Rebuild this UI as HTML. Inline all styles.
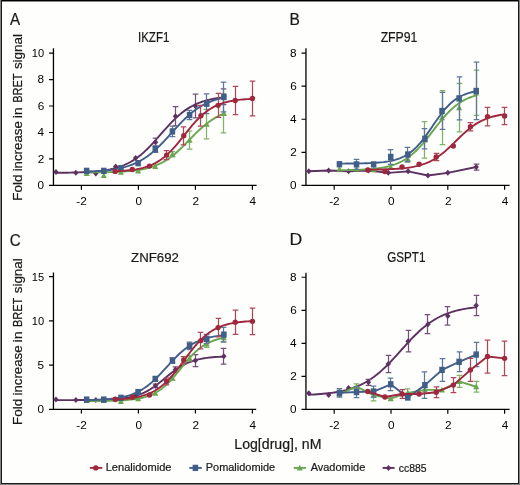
<!DOCTYPE html>
<html><head><meta charset="utf-8"><style>html,body{margin:0;padding:0;background:#fff;width:520px;height:485px;overflow:hidden}svg{display:block}text{-webkit-font-smoothing:antialiased}</style></head>
<body>
<svg width="520" height="485" viewBox="0 0 520 485" style="will-change:transform">
<rect x="0" y="0" width="520" height="485" fill="#fefefd"/>
<g shape-rendering="crispEdges">
<rect x="0" y="0" width="1" height="485" fill="#828282"/>
<rect x="519" y="0" width="1" height="485" fill="#828282"/>
<rect x="0" y="484" width="520" height="1" fill="#828282"/>
<rect x="2" y="1" width="516" height="1" fill="#858585"/>
<rect x="1" y="0" width="518" height="1" fill="#000"/>
<rect x="1" y="0" width="1" height="484" fill="#1a1a1a"/>
<rect x="518" y="0" width="1" height="484" fill="#1a1a1a"/>
<rect x="1" y="483" width="518" height="1" fill="#1a1a1a"/>
</g>
<g font-family="'Liberation Sans', sans-serif" fill="#1a1a1a" stroke="#1a1a1a" stroke-width="0.22">
<text transform="translate(10.12,25.2) scale(0.901,1)" font-size="16.81">A</text>
<text transform="translate(289.56,25.2) scale(0.923,1)" font-size="16.81">B</text>
<text transform="translate(9.64,245.8) scale(0.874,1)" font-size="17.43">C</text>
<text transform="translate(289.49,245.4) scale(1.032,1)" font-size="17.10">D</text>
<text transform="translate(137.96,41.8) scale(0.830,1)" font-size="13.91">IKZF1</text>
<text transform="translate(380.63,41.8) scale(0.885,1)" font-size="13.86">ZFP91</text>
<text transform="translate(131.1,261.8) scale(0.975,1)" font-size="13.57">ZNF692</text>
<text transform="translate(387.22,262.2) scale(0.833,1)" font-size="14.00">GSPT1</text>
<text transform="translate(21.9,200.78) rotate(-90) scale(1.005,1)" font-size="13.38">Fold</text>
<text transform="translate(21.9,171.36) rotate(-90) scale(0.992,1)" font-size="13.38">increase</text>
<text transform="translate(21.9,118.34) rotate(-90) scale(1.078,1)" font-size="13.38">in</text>
<text transform="translate(21.9,102.78) rotate(-90) scale(0.822,1)" font-size="13.38">BRET</text>
<text transform="translate(21.9,69.1) rotate(-90) scale(1.004,1)" font-size="13.38">signal</text>
<text transform="translate(21.9,424.98) rotate(-90) scale(1.005,1)" font-size="13.38">Fold</text>
<text transform="translate(21.9,395.56) rotate(-90) scale(0.992,1)" font-size="13.38">increase</text>
<text transform="translate(21.9,342.54) rotate(-90) scale(1.078,1)" font-size="13.38">in</text>
<text transform="translate(21.9,326.98) rotate(-90) scale(0.822,1)" font-size="13.38">BRET</text>
<text transform="translate(21.9,293.3) rotate(-90) scale(1.004,1)" font-size="13.38">signal</text>
<text transform="translate(234.27,449.2) scale(0.967,1)" font-size="14.62">Log[drug], nM</text>
<text transform="translate(105.72,471.4) scale(0.966,1)" font-size="11.45">Lenalidomide</text>
<text transform="translate(205.72,471.4) scale(0.958,1)" font-size="11.45">Pomalidomide</text>
<text transform="translate(310.65,471.4) scale(0.959,1)" font-size="11.45">Avadomide</text>
<text transform="translate(398.73,471.6) scale(0.986,1)" font-size="10.57">cc885</text>
</g>
<g font-family="'Liberation Sans', sans-serif" fill="#1a1a1a">
<path d="M53.45 48.3V185.4H256.6" fill="none" stroke="#000" stroke-width="1.3"/>
<path d="M49.05 185.4H53.45M49.05 158.94H53.45M49.05 132.48H53.45M49.05 106.02H53.45M49.05 79.56H53.45M49.05 53.1H53.45M81.4 185.4V189.7M138.4 185.4V189.7M195.4 185.4V189.7M252.4 185.4V189.7" stroke="#000" stroke-width="1.2"/>
<text transform="translate(37.59,189.3) scale(1.08,1)" font-size="10.9" fill="#000">0</text>
<text transform="translate(37.71,162.84) scale(1.08,1)" font-size="10.9" fill="#000">2</text>
<text transform="translate(37.47,136.38) scale(1.08,1)" font-size="10.9" fill="#000">4</text>
<text transform="translate(37.65,109.92) scale(1.08,1)" font-size="10.9" fill="#000">6</text>
<text transform="translate(37.59,83.46) scale(1.08,1)" font-size="10.9" fill="#000">8</text>
<text transform="translate(31.75,57) scale(1.02,1)" font-size="10.9" fill="#000">10</text>
<text transform="translate(76.34,205) scale(1.08,1)" font-size="10.9" fill="#000">-2</text>
<text transform="translate(135.48,205) scale(1.08,1)" font-size="10.9" fill="#000">0</text>
<text transform="translate(192.48,205) scale(1.08,1)" font-size="10.9" fill="#000">2</text>
<text transform="translate(249.51,205) scale(1.08,1)" font-size="10.9" fill="#000">4</text>
<polyline points="55.95,172.82 58.8,172.8 61.64,172.76 64.49,172.72 67.34,172.68 70.18,172.62 73.03,172.56 75.88,172.48 78.72,172.39 81.57,172.28 84.42,172.15 87.26,172 90.11,171.82 92.96,171.61 95.8,171.37 98.65,171.08 101.5,170.74 104.34,170.34 107.19,169.88 110.04,169.34 112.88,168.7 115.73,167.97 118.58,167.12 121.42,166.14 124.27,165.01 127.11,163.72 129.96,162.25 132.81,160.6 135.65,158.74 138.5,156.68 141.35,154.4 144.19,151.92 147.04,149.24 149.89,146.37 152.73,143.36 155.58,140.22 158.43,136.99 161.27,133.73 164.12,130.48 166.97,127.28 169.81,124.17 172.66,121.2 175.51,118.39 178.35,115.77 181.2,113.35 184.05,111.13 186.89,109.14 189.74,107.34 192.59,105.75 195.43,104.34 198.28,103.1 201.13,102.02 203.97,101.08 206.82,100.27 209.67,99.57 212.51,98.96 215.36,98.45 218.21,98 221.05,97.63 223.9,97.3" fill="none" stroke="#5d3160" stroke-width="1.9" stroke-linejoin="round"/>
<path d="M155.5 138.17V146.11M152.7 138.17H158.3M152.7 146.11H158.3M175.5 106.55V125.87M172.7 106.55H178.3M172.7 125.87H178.3M195.5 94.11V117.93M192.7 94.11H198.3M192.7 117.93H198.3M223.5 88.82V104.7M220.7 88.82H226.3M220.7 104.7H226.3" stroke="#755078" stroke-width="1.25" fill="none"/>
<path d="M55.95 168.91L58.65 171.91L55.95 174.91L53.25 171.91Z" fill="#5d3160"/>
<path d="M75.87 169.7L78.57 172.7L75.87 175.7L73.17 172.7Z" fill="#5d3160"/>
<path d="M95.79 170.49L98.49 173.49L95.79 176.49L93.09 173.49Z" fill="#5d3160"/>
<path d="M115.71 163.48L118.41 166.48L115.71 169.48L113.01 166.48Z" fill="#5d3160"/>
<path d="M135.64 155.01L138.34 158.01L135.64 161.01L132.94 158.01Z" fill="#5d3160"/>
<path d="M155.56 139.14L158.26 142.14L155.56 145.14L152.86 142.14Z" fill="#5d3160"/>
<path d="M175.48 113.21L178.18 116.21L175.48 119.21L172.78 116.21Z" fill="#5d3160"/>
<path d="M195.4 103.02L198.1 106.02L195.4 109.02L192.7 106.02Z" fill="#5d3160"/>
<path d="M223.9 93.76L226.6 96.76L223.9 99.76L221.2 96.76Z" fill="#5d3160"/>
<polyline points="86.64,172.46 88.97,172.45 91.3,172.43 93.62,172.41 95.95,172.38 98.28,172.35 100.6,172.32 102.93,172.28 105.25,172.23 107.58,172.18 109.91,172.12 112.23,172.05 114.56,171.97 116.89,171.88 119.21,171.77 121.54,171.65 123.87,171.51 126.19,171.35 128.52,171.16 130.85,170.95 133.17,170.7 135.5,170.41 137.82,170.09 140.15,169.72 142.48,169.29 144.8,168.81 147.13,168.26 149.46,167.63 151.78,166.93 154.11,166.13 156.44,165.23 158.76,164.23 161.09,163.11 163.41,161.87 165.74,160.5 168.07,158.99 170.39,157.36 172.72,155.59 175.05,153.69 177.37,151.67 179.7,149.55 182.03,147.32 184.35,145.02 186.68,142.67 189,140.28 191.33,137.89 193.66,135.52 195.98,133.19 198.31,130.93 200.64,128.76 202.96,126.68 205.29,124.73 207.62,122.9 209.94,121.2 212.27,119.63 214.59,118.2 216.92,116.9 219.25,115.73 221.57,114.67 223.9,113.72" fill="none" stroke="#6aa550" stroke-width="1.9" stroke-linejoin="round"/>
<path d="M172.5 151.53V156.82M169.7 151.53H175.3M169.7 156.82H175.3M189.5 131.16V149.15M186.7 131.16H192.3M186.7 149.15H192.3M206.5 109.33V138.96M203.7 109.33H209.3M203.7 138.96H209.3M223.5 93.72V132.88M220.7 93.72H226.3M220.7 132.88H226.3" stroke="#80b26a" stroke-width="1.25" fill="none"/>
<path d="M86.64 170.16L89.64 175.96L83.64 175.96Z" fill="#6aa550"/>
<path d="M103.8 172.15L106.8 177.95L100.8 177.95Z" fill="#6aa550"/>
<path d="M120.96 168.97L123.96 174.77L117.96 174.77Z" fill="#6aa550"/>
<path d="M138.12 167.65L141.12 173.45L135.12 173.45Z" fill="#6aa550"/>
<path d="M155.27 163.28L158.27 169.08L152.27 169.08Z" fill="#6aa550"/>
<path d="M172.43 150.98L175.43 156.78L169.43 156.78Z" fill="#6aa550"/>
<path d="M189.59 136.95L192.59 142.75L186.59 142.75Z" fill="#6aa550"/>
<path d="M206.74 120.95L209.74 126.75L203.74 126.75Z" fill="#6aa550"/>
<path d="M223.9 110.1L226.9 115.9L220.9 115.9Z" fill="#6aa550"/>
<polyline points="86.64,171.66 88.97,171.57 91.3,171.47 93.62,171.36 95.95,171.23 98.28,171.08 100.6,170.91 102.93,170.71 105.25,170.5 107.58,170.25 109.91,169.97 112.23,169.65 114.56,169.29 116.89,168.88 119.21,168.43 121.54,167.91 123.87,167.33 126.19,166.68 128.52,165.95 130.85,165.14 133.17,164.24 135.5,163.23 137.82,162.12 140.15,160.89 142.48,159.55 144.8,158.08 147.13,156.48 149.46,154.75 151.78,152.89 154.11,150.9 156.44,148.79 158.76,146.56 161.09,144.23 163.41,141.82 165.74,139.33 168.07,136.79 170.39,134.21 172.72,131.63 175.05,129.06 177.37,126.52 179.7,124.04 182.03,121.63 184.35,119.31 186.68,117.1 189,115 191.33,113.03 193.66,111.18 195.98,109.47 198.31,107.88 200.64,106.42 202.96,105.09 205.29,103.88 207.62,102.78 209.94,101.79 212.27,100.89 214.59,100.09 216.92,99.37 219.25,98.73 221.57,98.16 223.9,97.65" fill="none" stroke="#405e88" stroke-width="1.9" stroke-linejoin="round"/>
<path d="M155.5 145.84V152.46M152.7 145.84H158.3M152.7 152.46H158.3M172.5 126.13V136.71M169.7 126.13H175.3M169.7 136.71H175.3M189.5 110.39V119.65M186.7 110.39H192.3M186.7 119.65H192.3M206.5 93.85V113.69M203.7 93.85H209.3M203.7 113.69H209.3M223.5 82.07V111.97M220.7 82.07H226.3M220.7 111.97H226.3" stroke="#5d769a" stroke-width="1.25" fill="none"/>
<rect x="83.89" y="167.7" width="5.5" height="6.3" fill="#405e88"/>
<rect x="101.05" y="167.7" width="5.5" height="6.3" fill="#405e88"/>
<rect x="118.21" y="165.05" width="5.5" height="6.3" fill="#405e88"/>
<rect x="135.37" y="160.02" width="5.5" height="6.3" fill="#405e88"/>
<rect x="152.52" y="146" width="5.5" height="6.3" fill="#405e88"/>
<rect x="169.68" y="128.27" width="5.5" height="6.3" fill="#405e88"/>
<rect x="186.84" y="111.87" width="5.5" height="6.3" fill="#405e88"/>
<rect x="203.99" y="100.62" width="5.5" height="6.3" fill="#405e88"/>
<rect x="221.15" y="93.87" width="5.5" height="6.3" fill="#405e88"/>
<polyline points="115.14,171.29 117.47,171.18 119.8,171.05 122.12,170.9 124.45,170.73 126.78,170.53 129.1,170.29 131.43,170.02 133.75,169.7 136.08,169.33 138.41,168.89 140.73,168.4 143.06,167.82 145.39,167.16 147.71,166.4 150.04,165.52 152.37,164.53 154.69,163.4 157.02,162.12 159.35,160.68 161.67,159.08 164,157.3 166.32,155.34 168.65,153.2 170.98,150.89 173.3,148.41 175.63,145.79 177.96,143.04 180.28,140.19 182.61,137.28 184.94,134.35 187.26,131.42 189.59,128.53 191.91,125.73 194.24,123.04 196.57,120.48 198.89,118.08 201.22,115.85 203.55,113.79 205.87,111.92 208.2,110.22 210.53,108.7 212.85,107.34 215.18,106.13 217.5,105.07 219.83,104.13 222.16,103.31 224.48,102.6 226.81,101.98 229.14,101.44 231.46,100.98 233.79,100.58 236.12,100.23 238.44,99.93 240.77,99.68 243.09,99.46 245.42,99.27 247.75,99.11 250.07,98.97 252.4,98.85" fill="none" stroke="#9f283e" stroke-width="1.9" stroke-linejoin="round"/>
<path d="M166.5 150.61V159.6M163.7 150.61H169.3M163.7 159.6H169.3M183.5 126.79V144.78M180.7 126.79H186.3M180.7 144.78H186.3M200.5 105.49V126.13M197.7 105.49H203.3M197.7 126.13H203.3M218.5 93.45V117.27M215.7 93.45H221.3M215.7 117.27H221.3M235.5 86.31V114.62M232.7 86.31H238.3M232.7 114.62H238.3M252.5 81.02V115.94M249.7 81.02H255.3M249.7 115.94H255.3" stroke="#ad485b" stroke-width="1.25" fill="none"/>
<circle cx="115.14" cy="171.38" r="2.7" fill="#9f283e"/>
<circle cx="132.3" cy="169.52" r="2.7" fill="#9f283e"/>
<circle cx="149.46" cy="166.08" r="2.7" fill="#9f283e"/>
<circle cx="166.62" cy="155.1" r="2.7" fill="#9f283e"/>
<circle cx="183.77" cy="135.79" r="2.7" fill="#9f283e"/>
<circle cx="200.93" cy="115.81" r="2.7" fill="#9f283e"/>
<circle cx="218.09" cy="105.36" r="2.7" fill="#9f283e"/>
<circle cx="235.24" cy="100.46" r="2.7" fill="#9f283e"/>
<circle cx="252.4" cy="98.48" r="2.7" fill="#9f283e"/>
<path d="M305.95 48.3V185.4H509.6" fill="none" stroke="#000" stroke-width="1.3"/>
<path d="M301.55 185.4H305.95M301.55 152.32H305.95M301.55 119.24H305.95M301.55 86.16H305.95M301.55 53.08H305.95M334.2 185.4V189.7M391 185.4V189.7M447.8 185.4V189.7M504.6 185.4V189.7" stroke="#000" stroke-width="1.2"/>
<text transform="translate(290.09,189.3) scale(1.08,1)" font-size="10.9" fill="#000">0</text>
<text transform="translate(290.21,156.22) scale(1.08,1)" font-size="10.9" fill="#000">2</text>
<text transform="translate(289.97,123.14) scale(1.08,1)" font-size="10.9" fill="#000">4</text>
<text transform="translate(290.15,90.06) scale(1.08,1)" font-size="10.9" fill="#000">6</text>
<text transform="translate(290.09,56.98) scale(1.08,1)" font-size="10.9" fill="#000">8</text>
<text transform="translate(329.14,205) scale(1.08,1)" font-size="10.9" fill="#000">-2</text>
<text transform="translate(388.08,205) scale(1.08,1)" font-size="10.9" fill="#000">0</text>
<text transform="translate(444.88,205) scale(1.08,1)" font-size="10.9" fill="#000">2</text>
<text transform="translate(501.71,205) scale(1.08,1)" font-size="10.9" fill="#000">4</text>
<polyline points="308.84,171.18 328.69,170.51 348.54,171.18 368.39,170.51 388.25,172.83 408.1,171.34 427.95,175.48 447.8,172.83 476.2,167.04" fill="none" stroke="#5d3160" stroke-width="1.9" stroke-linejoin="round"/>
<path d="M476.5 164.06V170.02M473.7 164.06H479.3M473.7 170.02H479.3" stroke="#755078" stroke-width="1.25" fill="none"/>
<path d="M308.84 168.18L311.54 171.18L308.84 174.18L306.14 171.18Z" fill="#5d3160"/>
<path d="M328.69 167.51L331.39 170.51L328.69 173.51L325.99 170.51Z" fill="#5d3160"/>
<path d="M348.54 168.18L351.24 171.18L348.54 174.18L345.84 171.18Z" fill="#5d3160"/>
<path d="M368.39 167.51L371.09 170.51L368.39 173.51L365.69 170.51Z" fill="#5d3160"/>
<path d="M388.25 169.83L390.95 172.83L388.25 175.83L385.55 172.83Z" fill="#5d3160"/>
<path d="M408.1 168.34L410.8 171.34L408.1 174.34L405.4 171.34Z" fill="#5d3160"/>
<path d="M427.95 172.48L430.65 175.48L427.95 178.48L425.25 175.48Z" fill="#5d3160"/>
<path d="M447.8 169.83L450.5 172.83L447.8 175.83L445.1 172.83Z" fill="#5d3160"/>
<path d="M476.2 164.04L478.9 167.04L476.2 170.04L473.5 167.04Z" fill="#5d3160"/>
<polyline points="339.43,170.23 341.74,170.2 344.06,170.17 346.38,170.13 348.7,170.09 351.02,170.04 353.33,169.98 355.65,169.91 357.97,169.83 360.29,169.73 362.61,169.63 364.93,169.5 367.24,169.36 369.56,169.19 371.88,168.99 374.2,168.77 376.52,168.5 378.84,168.2 381.15,167.85 383.47,167.45 385.79,166.99 388.11,166.45 390.43,165.84 392.74,165.14 395.06,164.35 397.38,163.44 399.7,162.41 402.02,161.25 404.34,159.95 406.65,158.49 408.97,156.87 411.29,155.08 413.61,153.11 415.93,150.96 418.24,148.64 420.56,146.16 422.88,143.53 425.2,140.76 427.52,137.89 429.84,134.93 432.15,131.93 434.47,128.91 436.79,125.91 439.11,122.97 441.43,120.11 443.75,117.36 446.06,114.75 448.38,112.3 450.7,110.01 453.02,107.89 455.34,105.96 457.65,104.19 459.97,102.6 462.29,101.17 464.61,99.89 466.93,98.75 469.25,97.74 471.56,96.86 473.88,96.08 476.2,95.39" fill="none" stroke="#6aa550" stroke-width="1.9" stroke-linejoin="round"/>
<path d="M407.5 155.63V162.24M404.7 155.63H410.3M404.7 162.24H410.3M424.5 121.72V158.11M421.7 121.72H427.3M421.7 158.11H427.3M442.5 90.63V144.55M439.7 90.63H445.3M439.7 144.55H445.3M459.5 83.35V131.98M456.7 83.35H462.3M456.7 131.98H462.3M476.5 70.12V115.44M473.7 70.12H479.3M473.7 115.44H479.3" stroke="#80b26a" stroke-width="1.25" fill="none"/>
<path d="M339.43 165.66L342.43 171.46L336.43 171.46Z" fill="#6aa550"/>
<path d="M356.52 165.66L359.52 171.46L353.52 171.46Z" fill="#6aa550"/>
<path d="M373.62 166.49L376.62 172.29L370.62 172.29Z" fill="#6aa550"/>
<path d="M390.72 164.01L393.72 169.81L387.72 169.81Z" fill="#6aa550"/>
<path d="M407.81 155.74L410.81 161.54L404.81 161.54Z" fill="#6aa550"/>
<path d="M424.91 136.72L427.91 142.52L421.91 142.52Z" fill="#6aa550"/>
<path d="M442.01 114.39L445.01 120.19L439.01 120.19Z" fill="#6aa550"/>
<path d="M459.1 104.46L462.1 110.26L456.1 110.26Z" fill="#6aa550"/>
<path d="M476.2 89.58L479.2 95.38L473.2 95.38Z" fill="#6aa550"/>
<polyline points="339.43,163.6 341.74,163.59 344.06,163.58 346.38,163.56 348.7,163.55 351.02,163.53 353.33,163.5 355.65,163.47 357.97,163.44 360.29,163.39 362.61,163.34 364.93,163.28 367.24,163.21 369.56,163.12 371.88,163.02 374.2,162.89 376.52,162.74 378.84,162.57 381.15,162.35 383.47,162.1 385.79,161.79 388.11,161.43 390.43,161.01 392.74,160.5 395.06,159.9 397.38,159.19 399.7,158.37 402.02,157.4 404.34,156.27 406.65,154.96 408.97,153.46 411.29,151.75 413.61,149.81 415.93,147.63 418.24,145.21 420.56,142.56 422.88,139.7 425.2,136.64 427.52,133.42 429.84,130.09 432.15,126.7 434.47,123.3 436.79,119.95 439.11,116.7 441.43,113.61 443.75,110.69 446.06,108 448.38,105.53 450.7,103.3 453.02,101.31 455.34,99.55 457.65,98.01 459.97,96.66 462.29,95.5 464.61,94.5 466.93,93.64 469.25,92.91 471.56,92.29 473.88,91.76 476.2,91.32" fill="none" stroke="#405e88" stroke-width="1.9" stroke-linejoin="round"/>
<path d="M356.5 159.43V169.36M353.7 159.43H359.3M353.7 169.36H359.3M390.5 149.51V164.39M387.7 149.51H393.3M387.7 164.39H393.3M407.5 147.36V161.58M404.7 147.36H410.3M404.7 161.58H410.3M424.5 128.67V148.85M421.7 128.67H427.3M421.7 148.85H427.3M442.5 92.45V129.49M439.7 92.45H445.3M439.7 129.49H445.3M459.5 76.9V119.9M456.7 76.9H462.3M456.7 119.9H462.3M476.5 62.18V119.74M473.7 62.18H479.3M473.7 119.74H479.3" stroke="#5d769a" stroke-width="1.25" fill="none"/>
<rect x="336.68" y="161.08" width="5.5" height="6.3" fill="#405e88"/>
<rect x="353.77" y="161.24" width="5.5" height="6.3" fill="#405e88"/>
<rect x="370.87" y="161.24" width="5.5" height="6.3" fill="#405e88"/>
<rect x="387.97" y="153.8" width="5.5" height="6.3" fill="#405e88"/>
<rect x="405.06" y="151.32" width="5.5" height="6.3" fill="#405e88"/>
<rect x="422.16" y="135.61" width="5.5" height="6.3" fill="#405e88"/>
<rect x="439.26" y="107.82" width="5.5" height="6.3" fill="#405e88"/>
<rect x="456.35" y="95.25" width="5.5" height="6.3" fill="#405e88"/>
<rect x="473.45" y="87.81" width="5.5" height="6.3" fill="#405e88"/>
<polyline points="367.83,169.67 370.14,169.65 372.46,169.62 374.78,169.59 377.1,169.55 379.42,169.5 381.73,169.45 384.05,169.39 386.37,169.32 388.69,169.24 391.01,169.14 393.33,169.03 395.64,168.9 397.96,168.75 400.28,168.57 402.6,168.36 404.92,168.12 407.24,167.83 409.55,167.51 411.87,167.13 414.19,166.69 416.51,166.19 418.83,165.61 421.14,164.95 423.46,164.2 425.78,163.34 428.1,162.37 430.42,161.28 432.74,160.06 435.05,158.7 437.37,157.21 439.69,155.57 442.01,153.8 444.33,151.91 446.64,149.89 448.96,147.77 451.28,145.58 453.6,143.33 455.92,141.05 458.24,138.77 460.55,136.52 462.87,134.32 465.19,132.21 467.51,130.2 469.83,128.3 472.15,126.54 474.46,124.91 476.78,123.42 479.1,122.07 481.42,120.85 483.74,119.76 486.05,118.8 488.37,117.94 490.69,117.19 493.01,116.53 495.33,115.96 497.65,115.46 499.96,115.02 502.28,114.64 504.6,114.32" fill="none" stroke="#9f283e" stroke-width="1.9" stroke-linejoin="round"/>
<path d="M436.5 153.31V160.59M433.7 153.31H439.3M433.7 160.59H439.3M470.5 122.55V130.82M467.7 122.55H473.3M467.7 130.82H473.3M487.5 107.33V125.86M484.7 107.33H490.3M484.7 125.86H490.3M504.5 107.33V124.53M501.7 107.33H507.3M501.7 124.53H507.3" stroke="#ad485b" stroke-width="1.25" fill="none"/>
<circle cx="367.83" cy="170.02" r="2.7" fill="#9f283e"/>
<circle cx="384.92" cy="171.51" r="2.7" fill="#9f283e"/>
<circle cx="402.02" cy="167.04" r="2.7" fill="#9f283e"/>
<circle cx="419.12" cy="164.23" r="2.7" fill="#9f283e"/>
<circle cx="436.21" cy="156.95" r="2.7" fill="#9f283e"/>
<circle cx="453.31" cy="146.03" r="2.7" fill="#9f283e"/>
<circle cx="470.41" cy="126.68" r="2.7" fill="#9f283e"/>
<circle cx="487.5" cy="116.59" r="2.7" fill="#9f283e"/>
<circle cx="504.6" cy="115.93" r="2.7" fill="#9f283e"/>
<path d="M53.45 272.4V409.3H256.2" fill="none" stroke="#000" stroke-width="1.3"/>
<path d="M49.05 409.3H53.45M49.05 365.1H53.45M49.05 320.9H53.45M49.05 276.7H53.45M81.4 409.3V413.6M138.4 409.3V413.6M195.4 409.3V413.6M252.4 409.3V413.6" stroke="#000" stroke-width="1.2"/>
<text transform="translate(37.59,413.2) scale(1.08,1)" font-size="10.9" fill="#000">0</text>
<text transform="translate(37.59,369) scale(1.08,1)" font-size="10.9" fill="#000">5</text>
<text transform="translate(31.75,324.8) scale(1.02,1)" font-size="10.9" fill="#000">10</text>
<text transform="translate(31.75,280.6) scale(1.02,1)" font-size="10.9" fill="#000">15</text>
<text transform="translate(76.34,428.9) scale(1.08,1)" font-size="10.9" fill="#000">-2</text>
<text transform="translate(135.48,428.9) scale(1.08,1)" font-size="10.9" fill="#000">0</text>
<text transform="translate(192.48,428.9) scale(1.08,1)" font-size="10.9" fill="#000">2</text>
<text transform="translate(249.51,428.9) scale(1.08,1)" font-size="10.9" fill="#000">4</text>
<polyline points="55.95,400.12 58.8,400.11 61.64,400.11 64.49,400.11 67.34,400.1 70.18,400.09 73.03,400.09 75.88,400.08 78.72,400.06 81.57,400.05 84.42,400.03 87.26,400 90.11,399.97 92.96,399.94 95.8,399.89 98.65,399.83 101.5,399.76 104.34,399.68 107.19,399.57 110.04,399.44 112.88,399.28 115.73,399.08 118.58,398.84 121.42,398.54 124.27,398.18 127.11,397.74 129.96,397.2 132.81,396.56 135.65,395.79 138.5,394.88 141.35,393.81 144.19,392.56 147.04,391.12 149.89,389.49 152.73,387.66 155.58,385.66 158.43,383.51 161.27,381.24 164.12,378.9 166.97,376.55 169.81,374.23 172.66,371.99 175.51,369.88 178.35,367.94 181.2,366.17 184.05,364.6 186.89,363.22 189.74,362.03 192.59,361.01 195.43,360.15 198.28,359.42 201.13,358.82 203.97,358.31 206.82,357.9 209.67,357.56 212.51,357.28 215.36,357.05 218.21,356.87 221.05,356.72 223.9,356.59" fill="none" stroke="#5d3160" stroke-width="1.9" stroke-linejoin="round"/>
<path d="M155.5 384.11V387.64M152.7 384.11H158.3M152.7 387.64H158.3M175.5 366.96V372.26M172.7 366.96H178.3M172.7 372.26H178.3M195.5 354.67V366.51M192.7 354.67H198.3M192.7 366.51H198.3M223.5 348.48V364.22M220.7 348.48H226.3M220.7 364.22H226.3" stroke="#755078" stroke-width="1.25" fill="none"/>
<path d="M55.95 396.58L58.65 399.58L55.95 402.58L53.25 399.58Z" fill="#5d3160"/>
<path d="M75.87 397.11L78.57 400.11L75.87 403.11L73.17 400.11Z" fill="#5d3160"/>
<path d="M95.79 397.11L98.49 400.11L95.79 403.11L93.09 400.11Z" fill="#5d3160"/>
<path d="M115.71 396.58L118.41 399.58L115.71 402.58L113.01 399.58Z" fill="#5d3160"/>
<path d="M135.64 392.51L138.34 395.51L135.64 398.51L132.94 395.51Z" fill="#5d3160"/>
<path d="M155.56 382.87L158.26 385.87L155.56 388.87L152.86 385.87Z" fill="#5d3160"/>
<path d="M175.48 366.61L178.18 369.61L175.48 372.61L172.78 369.61Z" fill="#5d3160"/>
<path d="M195.4 357.59L198.1 360.59L195.4 363.59L192.7 360.59Z" fill="#5d3160"/>
<path d="M223.9 353.35L226.6 356.35L223.9 359.35L221.2 356.35Z" fill="#5d3160"/>
<polyline points="86.64,401.06 88.97,401.05 91.3,401.04 93.62,401.02 95.95,401 98.28,400.98 100.6,400.96 102.93,400.93 105.25,400.9 107.58,400.86 109.91,400.81 112.23,400.75 114.56,400.68 116.89,400.6 119.21,400.5 121.54,400.38 123.87,400.24 126.19,400.08 128.52,399.89 130.85,399.66 133.17,399.39 135.5,399.06 137.82,398.69 140.15,398.24 142.48,397.72 144.8,397.1 147.13,396.39 149.46,395.56 151.78,394.6 154.11,393.49 156.44,392.22 158.76,390.79 161.09,389.16 163.41,387.35 165.74,385.34 168.07,383.14 170.39,380.75 172.72,378.21 175.05,375.52 177.37,372.73 179.7,369.87 182.03,366.98 184.35,364.12 186.68,361.32 189,358.62 191.33,356.06 193.66,353.66 195.98,351.43 198.31,349.4 200.64,347.57 202.96,345.93 205.29,344.47 207.62,343.19 209.94,342.06 212.27,341.09 214.59,340.25 216.92,339.52 219.25,338.9 221.57,338.36 223.9,337.91" fill="none" stroke="#6aa550" stroke-width="1.9" stroke-linejoin="round"/>
<path d="M172.5 376.33V379.86M169.7 376.33H175.3M169.7 379.86H175.3M189.5 355.46V360.77M186.7 355.46H192.3M186.7 360.77H192.3M206.5 340.35V347.42M203.7 340.35H209.3M203.7 347.42H209.3M223.5 333.28V342.12M220.7 333.28H226.3M220.7 342.12H226.3" stroke="#80b26a" stroke-width="1.25" fill="none"/>
<path d="M86.64 397.26L89.64 403.06L83.64 403.06Z" fill="#6aa550"/>
<path d="M103.8 397.26L106.8 403.06L100.8 403.06Z" fill="#6aa550"/>
<path d="M120.96 398.14L123.96 403.94L117.96 403.94Z" fill="#6aa550"/>
<path d="M138.12 395.49L141.12 401.29L135.12 401.29Z" fill="#6aa550"/>
<path d="M155.27 390.01L158.27 395.81L152.27 395.81Z" fill="#6aa550"/>
<path d="M172.43 374.89L175.43 380.69L169.43 380.69Z" fill="#6aa550"/>
<path d="M189.59 354.92L192.59 360.72L186.59 360.72Z" fill="#6aa550"/>
<path d="M206.74 340.68L209.74 346.48L203.74 346.48Z" fill="#6aa550"/>
<path d="M223.9 334.5L226.9 340.3L220.9 340.3Z" fill="#6aa550"/>
<polyline points="86.64,400.15 88.97,400.1 91.3,400.03 93.62,399.96 95.95,399.87 98.28,399.77 100.6,399.66 102.93,399.52 105.25,399.36 107.58,399.18 109.91,398.97 112.23,398.72 114.56,398.44 116.89,398.11 119.21,397.73 121.54,397.3 123.87,396.79 126.19,396.22 128.52,395.56 130.85,394.81 133.17,393.95 135.5,392.98 137.82,391.89 140.15,390.67 142.48,389.31 144.8,387.79 147.13,386.13 149.46,384.32 151.78,382.35 154.11,380.24 156.44,378 158.76,375.64 161.09,373.19 163.41,370.67 165.74,368.11 168.07,365.53 170.39,362.98 172.72,360.47 175.05,358.04 177.37,355.71 179.7,353.5 182.03,351.43 184.35,349.5 186.68,347.72 189,346.09 191.33,344.62 193.66,343.29 195.98,342.1 198.31,341.04 200.64,340.1 202.96,339.27 205.29,338.54 207.62,337.9 209.94,337.35 212.27,336.86 214.59,336.44 216.92,336.07 219.25,335.76 221.57,335.48 223.9,335.25" fill="none" stroke="#405e88" stroke-width="1.9" stroke-linejoin="round"/>
<path d="M138.5 390.29V393.83M135.7 390.29H141.3M135.7 393.83H141.3M155.5 377.12V380.66M152.7 377.12H158.3M152.7 380.66H158.3M172.5 357.94V363.24M169.7 357.94H175.3M169.7 363.24H175.3M189.5 342.12V349.54M186.7 342.12H192.3M186.7 349.54H192.3M206.5 334.43V343.27M203.7 334.43H209.3M203.7 343.27H209.3M223.5 327.35V341.85M220.7 327.35H226.3M220.7 341.85H226.3" stroke="#5d769a" stroke-width="1.25" fill="none"/>
<rect x="83.89" y="396.43" width="5.5" height="6.3" fill="#405e88"/>
<rect x="101.05" y="396.43" width="5.5" height="6.3" fill="#405e88"/>
<rect x="118.21" y="394.66" width="5.5" height="6.3" fill="#405e88"/>
<rect x="135.37" y="388.91" width="5.5" height="6.3" fill="#405e88"/>
<rect x="152.52" y="375.74" width="5.5" height="6.3" fill="#405e88"/>
<rect x="169.68" y="357.44" width="5.5" height="6.3" fill="#405e88"/>
<rect x="186.84" y="342.68" width="5.5" height="6.3" fill="#405e88"/>
<rect x="203.99" y="335.7" width="5.5" height="6.3" fill="#405e88"/>
<rect x="221.15" y="331.45" width="5.5" height="6.3" fill="#405e88"/>
<polyline points="115.14,399.55 117.47,399.43 119.8,399.29 122.12,399.12 124.45,398.92 126.78,398.69 129.1,398.43 131.43,398.12 133.75,397.76 136.08,397.35 138.41,396.87 140.73,396.31 143.06,395.67 145.39,394.94 147.71,394.09 150.04,393.13 152.37,392.03 154.69,390.78 157.02,389.38 159.35,387.8 161.67,386.04 164,384.1 166.32,381.96 168.65,379.63 170.98,377.12 173.3,374.44 175.63,371.6 177.96,368.63 180.28,365.56 182.61,362.43 184.94,359.27 187.26,356.13 189.59,353.03 191.91,350.03 194.24,347.14 196.57,344.4 198.89,341.83 201.22,339.43 203.55,337.23 205.87,335.22 208.2,333.4 210.53,331.76 212.85,330.3 215.18,329 217.5,327.85 219.83,326.84 222.16,325.96 224.48,325.19 226.81,324.51 229.14,323.93 231.46,323.42 233.79,322.99 236.12,322.61 238.44,322.29 240.77,322.01 243.09,321.77 245.42,321.56 247.75,321.39 250.07,321.23 252.4,321.1" fill="none" stroke="#9f283e" stroke-width="1.9" stroke-linejoin="round"/>
<path d="M166.5 377.83V384.9M163.7 377.83H169.3M163.7 384.9H169.3M183.5 356.53V363.6M180.7 356.53H186.3M180.7 363.6H186.3M200.5 332.48V348.75M197.7 332.48H203.3M197.7 348.75H203.3M218.5 318.34V336.9M215.7 318.34H221.3M215.7 336.9H221.3M235.5 310.03V334.25M232.7 310.03H238.3M232.7 334.25H238.3M252.5 308.08V334.6M249.7 308.08H255.3M249.7 334.6H255.3" stroke="#ad485b" stroke-width="1.25" fill="none"/>
<circle cx="115.14" cy="399.22" r="2.7" fill="#9f283e"/>
<circle cx="132.3" cy="397.28" r="2.7" fill="#9f283e"/>
<circle cx="149.46" cy="394.98" r="2.7" fill="#9f283e"/>
<circle cx="166.62" cy="381.37" r="2.7" fill="#9f283e"/>
<circle cx="183.77" cy="360.06" r="2.7" fill="#9f283e"/>
<circle cx="200.93" cy="340.61" r="2.7" fill="#9f283e"/>
<circle cx="218.09" cy="327.62" r="2.7" fill="#9f283e"/>
<circle cx="235.24" cy="322.14" r="2.7" fill="#9f283e"/>
<circle cx="252.4" cy="321.34" r="2.7" fill="#9f283e"/>
<path d="M305.95 272.7V409.4H509.6" fill="none" stroke="#000" stroke-width="1.3"/>
<path d="M301.55 409.4H305.95M301.55 376.36H305.95M301.55 343.32H305.95M301.55 310.28H305.95M301.55 277.24H305.95M334.2 409.4V413.7M391 409.4V413.7M447.8 409.4V413.7M504.6 409.4V413.7" stroke="#000" stroke-width="1.2"/>
<text transform="translate(290.09,413.3) scale(1.08,1)" font-size="10.9" fill="#000">0</text>
<text transform="translate(290.21,380.26) scale(1.08,1)" font-size="10.9" fill="#000">2</text>
<text transform="translate(289.97,347.22) scale(1.08,1)" font-size="10.9" fill="#000">4</text>
<text transform="translate(290.15,314.18) scale(1.08,1)" font-size="10.9" fill="#000">6</text>
<text transform="translate(290.09,281.14) scale(1.08,1)" font-size="10.9" fill="#000">8</text>
<text transform="translate(329.14,429) scale(1.08,1)" font-size="10.9" fill="#000">-2</text>
<text transform="translate(388.08,429) scale(1.08,1)" font-size="10.9" fill="#000">0</text>
<text transform="translate(444.88,429) scale(1.08,1)" font-size="10.9" fill="#000">2</text>
<text transform="translate(501.71,429) scale(1.08,1)" font-size="10.9" fill="#000">4</text>
<polyline points="308.84,394.75 311.68,394.61 314.51,394.45 317.35,394.26 320.19,394.05 323.02,393.81 325.86,393.53 328.7,393.21 331.53,392.85 334.37,392.44 337.21,391.97 340.04,391.44 342.88,390.83 345.71,390.14 348.55,389.37 351.39,388.49 354.22,387.51 357.06,386.4 359.9,385.17 362.73,383.79 365.57,382.26 368.41,380.58 371.24,378.73 374.08,376.72 376.92,374.53 379.75,372.17 382.59,369.65 385.43,366.98 388.26,364.16 391.1,361.22 393.94,358.19 396.77,355.08 399.61,351.92 402.45,348.75 405.28,345.6 408.12,342.49 410.96,339.46 413.79,336.53 416.63,333.72 419.47,331.06 422.3,328.55 425.14,326.2 427.98,324.03 430.81,322.02 433.65,320.18 436.49,318.51 439.32,317 442.16,315.63 445,314.4 447.83,313.31 450.67,312.33 453.51,311.46 456.34,310.69 459.18,310.01 462.02,309.41 464.85,308.88 467.69,308.41 470.53,308 473.36,307.65 476.2,307.33" fill="none" stroke="#5d3160" stroke-width="1.9" stroke-linejoin="round"/>
<path d="M368.5 379.33V385.28M365.7 379.33H371.3M365.7 385.28H371.3M388.5 355.38V372.56M385.7 355.38H391.3M385.7 372.56H391.3M408.5 330.43V351.91M405.7 330.43H411.3M405.7 351.91H411.3M427.5 314.74V333.57M424.7 314.74H430.3M424.7 333.57H430.3M447.5 306.65V325.15M444.7 306.65H450.3M444.7 325.15H450.3M476.5 295.25V315.73M473.7 295.25H479.3M473.7 315.73H479.3" stroke="#755078" stroke-width="1.25" fill="none"/>
<path d="M308.84 390.21L311.54 393.21L308.84 396.21L306.14 393.21Z" fill="#5d3160"/>
<path d="M328.69 392.03L331.39 395.03L328.69 398.03L325.99 395.03Z" fill="#5d3160"/>
<path d="M348.54 385.09L351.24 388.09L348.54 391.09L345.84 388.09Z" fill="#5d3160"/>
<path d="M368.39 379.31L371.09 382.31L368.39 385.31L365.69 382.31Z" fill="#5d3160"/>
<path d="M388.25 360.97L390.95 363.97L388.25 366.97L385.55 363.97Z" fill="#5d3160"/>
<path d="M408.1 338.17L410.8 341.17L408.1 344.17L405.4 341.17Z" fill="#5d3160"/>
<path d="M427.95 321.16L430.65 324.16L427.95 327.16L425.25 324.16Z" fill="#5d3160"/>
<path d="M447.8 312.9L450.5 315.9L447.8 318.9L445.1 315.9Z" fill="#5d3160"/>
<path d="M476.2 302.49L478.9 305.49L476.2 308.49L473.5 305.49Z" fill="#5d3160"/>
<polyline points="339.43,394.04 356.52,386.6 373.62,395.03 390.72,398.66 407.81,392.88 424.91,389.91 442.01,389.91 459.1,381.32 476.2,386.77" fill="none" stroke="#6aa550" stroke-width="1.9" stroke-linejoin="round"/>
<path d="M356.5 383.79V389.41M353.7 383.79H359.3M353.7 389.41H359.3M373.5 389.25V400.81M370.7 389.25H376.3M370.7 400.81H376.3M407.5 388.75V397.01M404.7 388.75H410.3M404.7 397.01H410.3M459.5 375.37V387.26M456.7 375.37H462.3M456.7 387.26H462.3M476.5 381.32V392.22M473.7 381.32H479.3M473.7 392.22H479.3" stroke="#80b26a" stroke-width="1.25" fill="none"/>
<path d="M339.43 390.84L342.43 396.64L336.43 396.64Z" fill="#6aa550"/>
<path d="M356.52 383.4L359.52 389.2L353.52 389.2Z" fill="#6aa550"/>
<path d="M373.62 391.83L376.62 397.63L370.62 397.63Z" fill="#6aa550"/>
<path d="M390.72 395.46L393.72 401.26L387.72 401.26Z" fill="#6aa550"/>
<path d="M407.81 389.68L410.81 395.48L404.81 395.48Z" fill="#6aa550"/>
<path d="M424.91 386.71L427.91 392.51L421.91 392.51Z" fill="#6aa550"/>
<path d="M442.01 386.71L445.01 392.51L439.01 392.51Z" fill="#6aa550"/>
<path d="M459.1 378.12L462.1 383.92L456.1 383.92Z" fill="#6aa550"/>
<path d="M476.2 383.57L479.2 389.37L473.2 389.37Z" fill="#6aa550"/>
<polyline points="339.43,392.88 356.52,392.05 373.62,391.56 390.72,384.29 407.81,397.51 424.91,385.12 442.01,369.92 459.1,361.82 476.2,354.55" fill="none" stroke="#405e88" stroke-width="1.9" stroke-linejoin="round"/>
<path d="M339.5 388.58V397.18M336.7 388.58H342.3M336.7 397.18H342.3M356.5 386.6V397.51M353.7 386.6H359.3M353.7 397.51H359.3M373.5 386.11V397.01M370.7 386.11H376.3M370.7 397.01H376.3M390.5 378.01V390.57M387.7 378.01H393.3M387.7 390.57H393.3M424.5 371.9V398.33M421.7 371.9H427.3M421.7 398.33H427.3M442.5 358.52V381.32M439.7 358.52H445.3M439.7 381.32H445.3M459.5 351.91V371.73M456.7 351.91H462.3M456.7 371.73H462.3M476.5 342.49V366.61M473.7 342.49H479.3M473.7 366.61H479.3" stroke="#5d769a" stroke-width="1.25" fill="none"/>
<rect x="336.68" y="389.73" width="5.5" height="6.3" fill="#405e88"/>
<rect x="353.77" y="388.9" width="5.5" height="6.3" fill="#405e88"/>
<rect x="370.87" y="388.41" width="5.5" height="6.3" fill="#405e88"/>
<rect x="387.97" y="381.14" width="5.5" height="6.3" fill="#405e88"/>
<rect x="405.06" y="394.36" width="5.5" height="6.3" fill="#405e88"/>
<rect x="422.16" y="381.97" width="5.5" height="6.3" fill="#405e88"/>
<rect x="439.26" y="366.77" width="5.5" height="6.3" fill="#405e88"/>
<rect x="456.35" y="358.67" width="5.5" height="6.3" fill="#405e88"/>
<rect x="473.45" y="351.4" width="5.5" height="6.3" fill="#405e88"/>
<polyline points="367.83,391.56 384.92,397.01 402.02,394.04 419.12,394.04 436.21,392.22 453.31,385.12 470.41,369.92 487.5,356.54 504.6,358.35" fill="none" stroke="#9f283e" stroke-width="1.9" stroke-linejoin="round"/>
<path d="M402.5 389.74V398.33M399.7 389.74H405.3M399.7 398.33H405.3M436.5 386.93V397.51M433.7 386.93H439.3M433.7 397.51H439.3M453.5 377.68V392.55M450.7 377.68H456.3M450.7 392.55H456.3M470.5 358.35V381.48M467.7 358.35H473.3M467.7 381.48H473.3M487.5 340.02V373.06M484.7 340.02H490.3M484.7 373.06H490.3M504.5 341.01V375.7M501.7 341.01H507.3M501.7 375.7H507.3" stroke="#ad485b" stroke-width="1.25" fill="none"/>
<circle cx="367.83" cy="391.56" r="2.7" fill="#9f283e"/>
<circle cx="384.92" cy="397.01" r="2.7" fill="#9f283e"/>
<circle cx="402.02" cy="394.04" r="2.7" fill="#9f283e"/>
<circle cx="419.12" cy="394.04" r="2.7" fill="#9f283e"/>
<circle cx="436.21" cy="392.22" r="2.7" fill="#9f283e"/>
<circle cx="453.31" cy="385.12" r="2.7" fill="#9f283e"/>
<circle cx="470.41" cy="369.92" r="2.7" fill="#9f283e"/>
<circle cx="487.5" cy="356.54" r="2.7" fill="#9f283e"/>
<circle cx="504.6" cy="358.35" r="2.7" fill="#9f283e"/>
<path d="M89.8 467.9H102.3" stroke="#9f283e" stroke-width="1.9"/>
<circle cx="95.8" cy="467.9" r="2.7" fill="#9f283e"/>
<path d="M189.3 467.9H201.8" stroke="#405e88" stroke-width="1.9"/>
<rect x="192.65" y="464.75" width="5.5" height="6.3" fill="#405e88"/>
<path d="M293.7 467.9H305.9" stroke="#6aa550" stroke-width="1.9"/>
<path d="M299.8 464.7L302.8 470.5L296.8 470.5Z" fill="#6aa550"/>
<path d="M382.6 467.9H394.6" stroke="#5d3160" stroke-width="1.9"/>
<path d="M388.5 464.9L391.2 467.9L388.5 470.9L385.8 467.9Z" fill="#5d3160"/>
</g>
</svg>
</body></html>
